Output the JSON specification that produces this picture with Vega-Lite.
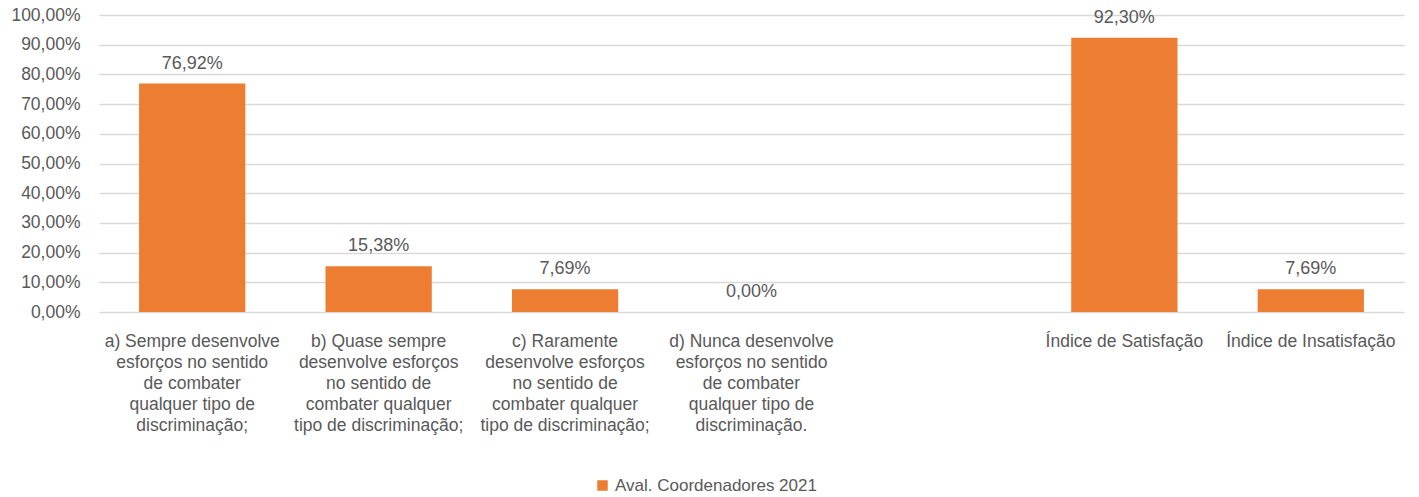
{
  "$schema": "https://vega.github.io/schema/vega-lite/v6.json",
  "width": 1305,
  "height": 297,
  "autosize": {"type": "none"},
  "padding": {"left": 99, "top": 15, "right": 15, "bottom": 185},
  "background": "white",
  "config": {
    "locale": {"number": {"decimal": ",", "thousands": ".", "grouping": [3], "currency": ["", "€"]}},
    "font": "Liberation Sans",
    "view": {"stroke": null}
  },
  "data": {
    "values": [
      {"cat": "a) Sempre desenvolve|esforços no sentido|de combater|qualquer tipo de|discriminação;", "value": 0.7692, "serie": "Aval. Coordenadores 2021"},
      {"cat": "b) Quase sempre|desenvolve esforços|no sentido de|combater qualquer|tipo de discriminação;", "value": 0.1538, "serie": "Aval. Coordenadores 2021"},
      {"cat": "c) Raramente|desenvolve esforços|no sentido de|combater qualquer|tipo de discriminação;", "value": 0.0769, "serie": "Aval. Coordenadores 2021"},
      {"cat": "d) Nunca desenvolve|esforços no sentido|de combater|qualquer tipo de|discriminação.", "value": 0.0, "serie": "Aval. Coordenadores 2021"},
      {"cat": "Índice de Satisfação", "value": 0.923, "serie": "Aval. Coordenadores 2021"},
      {"cat": "Índice de Insatisfação", "value": 0.0769, "serie": "Aval. Coordenadores 2021"}
    ]
  },
  "encoding": {
    "x": {
      "field": "cat",
      "type": "nominal",
      "scale": {
        "domain": [
          "a) Sempre desenvolve|esforços no sentido|de combater|qualquer tipo de|discriminação;",
          "b) Quase sempre|desenvolve esforços|no sentido de|combater qualquer|tipo de discriminação;",
          "c) Raramente|desenvolve esforços|no sentido de|combater qualquer|tipo de discriminação;",
          "d) Nunca desenvolve|esforços no sentido|de combater|qualquer tipo de|discriminação.",
          " ",
          "Índice de Satisfação",
          "Índice de Insatisfação"
        ],
        "paddingInner": 0.43,
        "paddingOuter": 0.215
      },
      "axis": {
        "title": null,
        "labelAngle": 0,
        "labelExpr": "split(datum.label, '|')",
        "labelFontSize": 17.5,
        "labelColor": "#595959",
        "labelLineHeight": 21,
        "labelPadding": 20,
        "labelBaseline": "top",
        "ticks": false,
        "domain": false,
        "labelLimit": 300
      }
    },
    "y": {
      "field": "value",
      "type": "quantitative",
      "scale": {"domain": [0, 1], "nice": false},
      "axis": {
        "title": null,
        "values": [0, 0.1, 0.2, 0.3, 0.4, 0.5, 0.6, 0.7, 0.8, 0.9, 1],
        "format": ".2%",
        "labelFontSize": 17.5,
        "labelColor": "#595959",
        "labelPadding": 19,
        "ticks": false,
        "domain": false,
        "gridColor": "#d9d9d9",
        "gridWidth": 1.5
      }
    }
  },
  "layer": [
    {
      "mark": {"type": "bar", "color": "#ED7D31"},
      "encoding": {
        "color": {
          "field": "serie",
          "type": "nominal",
          "scale": {"range": ["#ED7D31"]},
          "legend": {
            "title": null,
            "orient": "none",
            "legendX": 495,
            "legendY": 462,
            "symbolType": "square",
            "symbolSize": 110,
            "symbolOpacity": 1,
            "labelFontSize": 17,
            "labelLimit": 500,
            "labelColor": "#595959",
            "labelOffset": 4
          }
        }
      }
    },
    {
      "mark": {"type": "text", "baseline": "bottom", "dy": -11, "fontSize": 18, "color": "#595959"},
      "encoding": {
        "text": {"field": "value", "type": "quantitative", "format": ".2%"}
      }
    }
  ]
}
